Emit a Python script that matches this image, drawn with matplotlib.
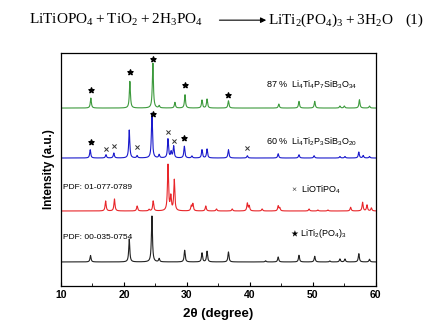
import matplotlib
matplotlib.use("Agg")
import matplotlib.pyplot as plt
import numpy as np

plt.rcParams['font.family'] = ['Liberation Sans', 'DejaVu Sans']
plt.rcParams['mathtext.fontset'] = 'custom'
plt.rcParams['mathtext.rm'] = 'Liberation Serif'
plt.rcParams['mathtext.sf'] = 'Liberation Sans'

# peak positions (2theta) and heights
black_pos = [14.7, 20.85, 24.45, 25.6, 29.65, 32.4, 33.2, 36.6, 42.5, 44.5, 47.8, 50.3, 52.7, 54.3, 55.1, 57.3, 59.0]
black_h = [6.5, 23, 46, 3.3, 11.7, 9, 10.7, 10, 1.2, 5, 6.7, 5.7, 1, 3, 3, 8.3, 2.7]

red_pos = [17.1, 18.5, 22.1, 24.0, 24.65, 27.0, 27.45, 28.0, 30.7, 30.95, 33.0, 34.7, 37.2,
           39.6, 39.9, 41.95, 44.5, 44.75, 49.4, 50.8, 52.4, 56.0, 57.9, 58.6, 59.3]
red_h = [10, 12, 5, 1.5, 10, 46, 14, 31, 5, 7, 5, 2, 2,
         7.7, 5, 2, 5, 3, 2, 1, 1, 3.7, 8.7, 6, 3]

blue_pos = [14.65, 17.15, 18.4, 20.85, 22.1, 24.45, 25.6, 27.0, 27.5, 27.9, 29.6, 30.8, 32.4, 33.2, 36.6,
            39.6, 44.5, 47.8, 50.2, 54.3, 55.1, 57.3, 58.0, 59.0]
blue_h = [8.3, 3.3, 5, 28, 2.3, 45, 3.3, 19, 6, 11.7, 11.7, 2, 8.3, 9, 8.3,
          2.3, 4.3, 3.3, 2.3, 1.5, 1.5, 6, 2.5, 1.5]

green_pos = [14.75, 20.95, 24.6, 25.6, 28.1, 29.7, 32.4, 33.2, 36.6, 44.6, 47.8, 50.3, 54.3, 55.0, 57.4, 59.0]
green_h = [10, 26.7, 45, 2.3, 5.7, 13.3, 8, 9, 7.3, 4, 6.7, 6.7, 2, 2, 8.3, 2]

# vertical offsets of the four patterns
offsets = {'black': 24, 'red': 75, 'blue': 128, 'green': 178}

# marker positions (2theta, height)
green_star_x = [14.7, 20.9, 24.6, 29.7, 36.6]
green_star_y = [196.5, 214.5, 227, 201, 191.5]
blue_star_x = [14.7, 24.6, 29.6]
blue_star_y = [144.5, 172, 148]
blue_x_x = [17.1, 18.5, 22.1, 27.0, 27.9, 39.6]
blue_x_y = [137.5, 140, 139, 154, 145.5, 138.5]


def pattern(x, pos, h, w=0.1):
    y = np.zeros_like(x)
    for p, a in zip(pos, h):
        y += a / (1 + ((x - p) / w) ** 2)
    return y


x = np.linspace(10, 60, 5000)

fig = plt.figure(figsize=(4.29, 3.36), dpi=100)
ax = fig.add_axes([0.142, 0.149, 0.734, 0.693])

ax.plot(x, pattern(x, black_pos, black_h) + offsets['black'], color='#222222', lw=0.8)
ax.plot(x, pattern(x, red_pos, red_h) + offsets['red'], color='#e8262a', lw=0.8)
ax.plot(x, pattern(x, blue_pos, blue_h) + offsets['blue'], color='#1a1acc', lw=0.8)
ax.plot(x, pattern(x, green_pos, green_h) + offsets['green'], color='#3d9a3d', lw=0.8)

ax.scatter(green_star_x, green_star_y, marker='*', s=15, color='black', zorder=3)
ax.scatter(blue_star_x, blue_star_y, marker='*', s=15, color='black', zorder=3)
ax.scatter(blue_x_x, blue_x_y, marker='x', s=9, color='#333333', lw=0.7, zorder=3)

fs = 6.5
ax.text(42.5, 201, r'87 %  $\mathsf{Li_4Ti_4P_7SiB_3O_{34}}$', fontsize=fs, va='center')
ax.text(42.5, 144, r'60 %  $\mathsf{Li_4Ti_2P_3SiB_3O_{20}}$', fontsize=fs, va='center')
ax.text(46.5, 96, r'$\times$  LiOTiPO$_\mathsf{4}$', fontsize=fs, va='center')
ax.text(46.3, 52.5, r'$\bigstar$ LiTi$_\mathsf{2}$(PO$_\mathsf{4}$)$_\mathsf{3}$', fontsize=fs, va='center')
ax.text(10.4, 99, 'PDF: 01-077-0789', fontsize=fs - 0.5, va='center')
ax.text(10.3, 48, 'PDF: 00-035-0754', fontsize=fs - 0.5, va='center')

ax.set_xlim(10, 60)
ax.set_ylim(0, 233)
ax.set_yticks([])
ax.set_xticks([10, 20, 30, 40, 50, 60])
ax.set_xticks([15, 25, 35, 45, 55], minor=True)
ax.tick_params(axis='x', direction='in', length=3, width=0.8, labelsize=7.5, pad=3)
ax.tick_params(axis='x', which='minor', direction='in', length=2, width=0.6)
for lab in ax.get_xticklabels():
    lab.set_fontweight('bold')
for s in ax.spines.values():
    s.set_linewidth(0.9)
ax.set_xlabel('2θ (degree)', fontsize=9.5, fontweight='bold', labelpad=6)
ax.set_ylabel('Intensity (a.u.)', fontsize=8.5, fontweight='bold', labelpad=4)

# reaction equation above the plot
fig.text(0.068, 0.94, r'$\mathrm{LiTiOPO_4 + TiO_2 + 2H_3PO_4}$', fontsize=11, va='center')
fig.text(0.625, 0.94, r'$\mathrm{LiTi_2(PO_4)_3 + 3H_2O}$', fontsize=11, va='center')
fig.text(0.944, 0.94, '(1)', fontsize=11, va='center', family='Liberation Serif')
fig.add_artist(matplotlib.patches.FancyArrowPatch((0.505, 0.94), (0.627, 0.94), transform=fig.transFigure,
                                                  arrowstyle='-|>', mutation_scale=8, lw=0.8, color='black'))

fig.savefig('out.png', dpi=100)
